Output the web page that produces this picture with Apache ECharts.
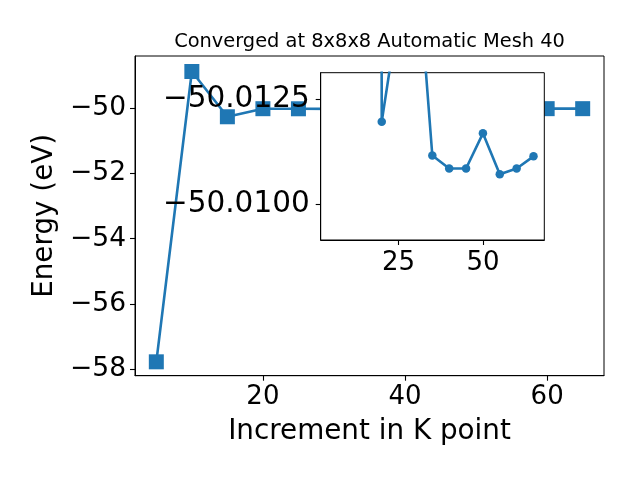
<!DOCTYPE html>
<html>
<head>
<meta charset="utf-8">
<script src="https://cdn.jsdelivr.net/npm/echarts@6/dist/echarts.min.js"></script>
<style>html,body{margin:0;padding:0;background:#fff}#c{width:640px;height:480px}</style>
</head>
<body>
<div id="c"></div>
<script>
// ---- data ----
const kPoints = [5, 10, 15, 20, 25, 30, 35, 40, 45, 50, 55, 60, 65];
const energies = [-57.78, -48.87, -50.26, -50.01197, -50.0146, -50.0164, -50.01116, -50.01085, -50.01085, -50.01169, -50.01071, -50.01085, -50.01114];
const insetK = [15, 20, 25, 30, 35, 40, 45, 50, 55, 60, 65];
const insetEnergies = [-50.26, -50.01197, -50.0146, -50.0164, -50.01116, -50.01085, -50.01085, -50.01169, -50.01071, -50.01085, -50.01114];
const mainXTicks = [20, 40, 60];
const mainYTicks = [-58, -56, -54, -52, -50];
const insetXTicks = [25, 50];
const insetYTicks = [-50.0125, -50.0100];
const titleText = 'Converged at 8x8x8 Automatic Mesh 40';
const xName = 'Increment in K point';
const yName = 'Energy (eV)';

const color = '#1f77b4';
const FONT = 'DejaVu Sans';
const fmt = (d) => (v) => { const s = Number(v).toFixed(d); return s.replace('-', '\u2212'); };

const mainData = kPoints.map((k, i) => [k, energies[i]]);
const insetData = insetK.map((k, i) => [k, insetEnergies[i]]);

const chart = echarts.init(document.getElementById('c'), null, {renderer: 'canvas'});
chart.setOption({
  animation: false,
  backgroundColor: '#fff',
  textStyle: {fontFamily: FONT},
  graphic: [{
    type: 'text', x: 369.5, y: 41.5, z: 20,
    style: {text: titleText, font: '19.4px "DejaVu Sans"', fill: '#000', align: 'center', verticalAlign: 'middle'}
  }],
  grid: [
    {left: 135, top: 56, width: 469, height: 319.7, show: true, borderColor: '#000', borderWidth: 1, backgroundColor: 'transparent', z: 0},
    {left: 320.7, top: 72.7, width: 223.6, height: 167.3, show: true, borderColor: '#000', borderWidth: 1, backgroundColor: '#fff', z: 5}
  ],
  xAxis: [
    {type: 'value', gridIndex: 0, min: 2, max: 68, z: 1,
     name: xName, nameLocation: 'middle', nameGap: 42.5,
     nameTextStyle: {fontSize: 27.8, color: '#000', fontFamily: FONT},
     axisLine: {show: true, lineStyle: {color: '#000', width: 1}},
     axisTick: {show: true, length: 5, inside: false, customValues: mainXTicks, lineStyle: {color: '#000', width: 1.1}},
     axisLabel: {show: true, margin: 9, fontSize: 26, color: '#000', fontFamily: FONT, customValues: mainXTicks, formatter: fmt(0)},
     splitLine: {show: false}},
    {type: 'value', gridIndex: 1, min: 1.9, max: 68.2, z: 6,
     axisLine: {show: true, lineStyle: {color: '#000', width: 1}},
     axisTick: {show: true, length: 5, inside: false, customValues: insetXTicks, lineStyle: {color: '#000', width: 1.1}},
     axisLabel: {show: true, margin: 10, fontSize: 26, color: '#000', fontFamily: FONT, customValues: insetXTicks, formatter: fmt(0)},
     splitLine: {show: false}}
  ],
  yAxis: [
    {type: 'value', gridIndex: 0, min: -58.206, max: -48.395, z: 1,
     name: yName, nameLocation: 'middle', nameGap: 76, nameRotate: 90,
     nameTextStyle: {fontSize: 27.8, color: '#000', fontFamily: FONT},
     axisLine: {show: true, lineStyle: {color: '#000', width: 1}},
     axisTick: {show: true, length: 5, inside: false, customValues: mainYTicks, lineStyle: {color: '#000', width: 1.1}},
     axisLabel: {show: true, margin: 9, fontSize: 26.5, color: '#000', fontFamily: FONT, customValues: mainYTicks, formatter: fmt(0)},
     splitLine: {show: false}},
    {type: 'value', gridIndex: 1, min: -50.01314, max: -50.00914, inverse: true, z: 6,
     axisLine: {show: true, lineStyle: {color: '#000', width: 1}},
     axisTick: {show: true, length: 5, inside: false, customValues: insetYTicks, lineStyle: {color: '#000', width: 1.1}},
     axisLabel: {show: true, margin: 11, fontSize: 29.5, color: '#000', fontFamily: FONT, customValues: insetYTicks, formatter: fmt(4)},
     splitLine: {show: false}}
  ],
  series: [
    {type: 'line', xAxisIndex: 0, yAxisIndex: 0, data: mainData, z: 2,
     symbol: 'rect', symbolSize: 15, showAllSymbol: true,
     lineStyle: {color: color, width: 2.6}, itemStyle: {color: color}},
    {type: 'line', xAxisIndex: 1, yAxisIndex: 1, data: insetData, z: 7, clip: true,
     symbol: 'circle', symbolSize: 8.5, showAllSymbol: true,
     lineStyle: {color: color, width: 2.6}, itemStyle: {color: color}}
  ]
});
</script>
</body>
</html>
